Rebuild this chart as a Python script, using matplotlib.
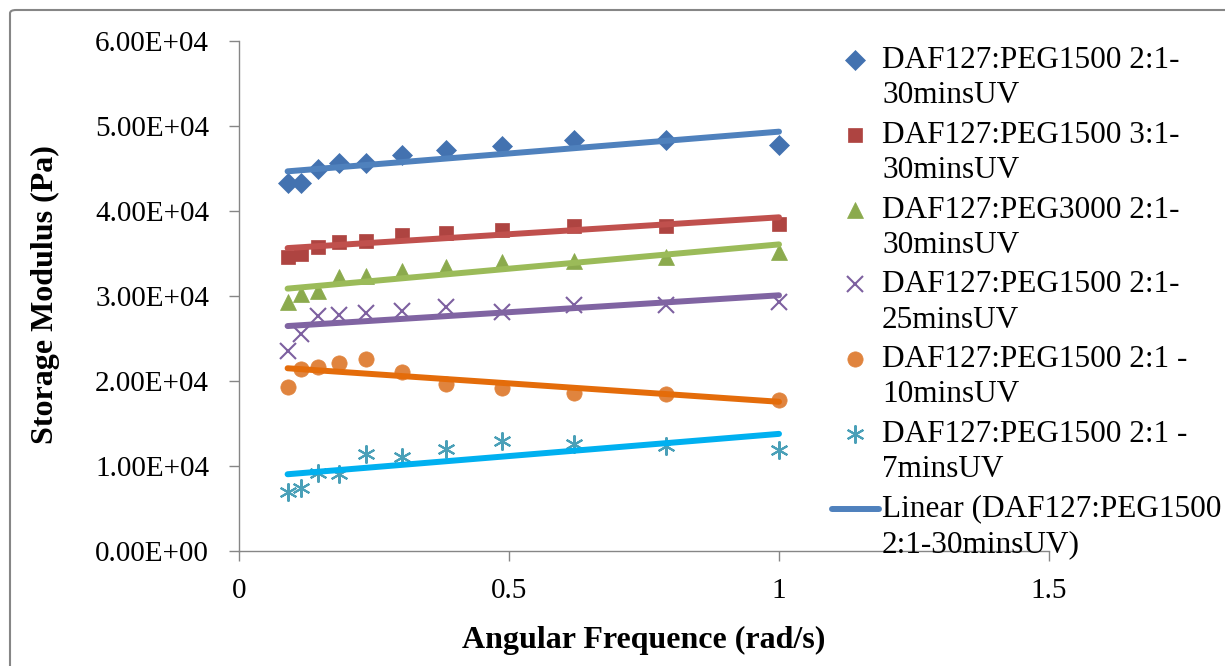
import numpy as np
import matplotlib
matplotlib.use("Agg")
import matplotlib.pyplot as plt
from matplotlib.ticker import FuncFormatter
from matplotlib.lines import Line2D
from matplotlib.patches import FancyBboxPatch
from matplotlib.legend_handler import HandlerLine2D

plt.rcParams['font.family'] = ['Liberation Serif', 'DejaVu Serif']

# 데이터
freq = [0.09, 0.115, 0.147, 0.186, 0.236, 0.302, 0.384, 0.487, 0.62, 0.79, 1.0]

peg1500_21_30 = [43300, 43300, 44900, 45600, 45700, 46600, 47200, 47600, 48300, 48300, 47800]
peg1500_31_30 = [34600, 34900, 35800, 36300, 36500, 37200, 37400, 37800, 38200, 38200, 38500]
peg3000_21_30 = [29300, 30200, 30600, 32200, 32300, 32900, 33400, 34000, 34100, 34600, 35200]
peg1500_21_25 = [23500, 25500, 27600, 27800, 28000, 28200, 28700, 28100, 28900, 28900, 29300]
peg1500_21_10 = [19300, 21400, 21700, 22100, 22600, 21100, 19600, 19200, 18600, 18500, 17800]
peg1500_21_7 = [6900, 7400, 9200, 9100, 11400, 11100, 12000, 12900, 12600, 12400, 11900]

labels = ['DAF127:PEG1500 2:1-\n30minsUV',
          'DAF127:PEG1500 3:1-\n30minsUV',
          'DAF127:PEG3000 2:1-\n30minsUV',
          'DAF127:PEG1500 2:1-\n25minsUV',
          'DAF127:PEG1500 2:1 -\n10minsUV',
          'DAF127:PEG1500 2:1 -\n7minsUV']
trend_label = 'Linear (DAF127:PEG1500\n2:1-30minsUV)'

series = [peg1500_21_30, peg1500_31_30, peg3000_21_30,
          peg1500_21_25, peg1500_21_10, peg1500_21_7]
markers = ['D', 's', '^', 'x', 'o', (6, 2, 0)]
msizes = [10, 10, 12, 11, 11, 13]
mcolors = ['#4372B0', '#AE4441', '#8BAA4D', '#7D60A0', '#E0843E', '#4AA0B8']
lcolors = ['#4F81BD', '#C0504D', '#9BBB59', '#8064A2', '#E46C0A', '#00B0F0']


# 범례 기호를 첫 줄 높이에 맞추기
class FirstLineHandler(HandlerLine2D):
    def create_artists(self, legend, orig_handle, xdescent, ydescent,
                       width, height, fontsize, trans):
        arts = super().create_artists(legend, orig_handle, xdescent, ydescent,
                                      width, height, fontsize, trans)
        for a in arts:
            a.set_ydata(np.asarray(a.get_ydata()) + 0.58 * fontsize)
        return arts


W, H = 1225, 666
fig = plt.figure(figsize=(W / 100, H / 100), dpi=100)
ax = fig.add_axes([239 / W, 1 - 551 / H, 810 / W, 510 / H])

x = np.array(freq)
handles = []
for y, mk, ms, mc, lc, lab in zip(series, markers, msizes, mcolors, lcolors, labels):
    y = np.array(y)
    h, = ax.plot(x, y, linestyle='none', marker=mk, ms=ms, color=mc,
                 mew=1.5 if mk in ('x', (6, 2, 0)) else 0.5, label=lab, zorder=3)
    handles.append(h)
    # 선형 추세선
    k, b = np.polyfit(x, y, 1)
    xs = np.array([x.min(), x.max()])
    ax.plot(xs, k * xs + b, color=lc, lw=4.3, solid_capstyle='round', zorder=4)

handles.append(Line2D([], [], color=lcolors[0], lw=4.3, solid_capstyle='round'))

ax.set_xlim(0, 1.5)
ax.set_ylim(0, 60000)
ax.set_xticks([0, 0.5, 1, 1.5])
ax.set_xticklabels(['0', '0.5', '1', '1.5'])
ax.set_yticks(np.arange(0, 60001, 10000))
ax.yaxis.set_major_formatter(FuncFormatter(lambda v, p: f'{v:.2E}'))

for s in ['top', 'right']:
    ax.spines[s].set_visible(False)
for s in ['left', 'bottom']:
    ax.spines[s].set_color('#868686')
    ax.spines[s].set_linewidth(1.0)
ax.tick_params(axis='y', direction='out', length=7.5, width=1, color='#868686',
               labelsize=21, pad=14)
ax.tick_params(axis='x', direction='out', length=7.5, width=1, color='#868686',
               labelsize=21, pad=12)

fig.text(644 / W, 1 - 648 / H, 'Angular Frequence (rad/s)', ha='center',
         va='baseline', fontsize=23, fontweight='bold')
fig.text(45 / W, 1 - 295 / H, 'Storage Modulus (Pa)', ha='center', va='center',
         rotation=90, fontsize=23, fontweight='bold')

leg = fig.legend(handles, labels + [trend_label], loc='upper left',
                 bbox_to_anchor=(832 / W, 1 - 46 / H), frameon=False,
                 fontsize=22.5, borderpad=0, borderaxespad=0, handlelength=1.5,
                 handletextpad=0.1, labelspacing=0.34,
                 handler_map={Line2D: FirstLineHandler()})
for t in leg.get_texts():
    t.set_linespacing(1.28)

# 차트 바깥 테두리
border = FancyBboxPatch((10 / W, 10 / H), 1.1, 1.1, boxstyle='round,pad=0,rounding_size=0.005',
                        transform=fig.transFigure, fill=False, ec='#868686', lw=1.5)
border.set_bounds(10 / W, -0.1, 1.1, 1 - 10 / H + 0.1)
fig.patches.append(border)

fig.savefig('out.png', dpi=100)
